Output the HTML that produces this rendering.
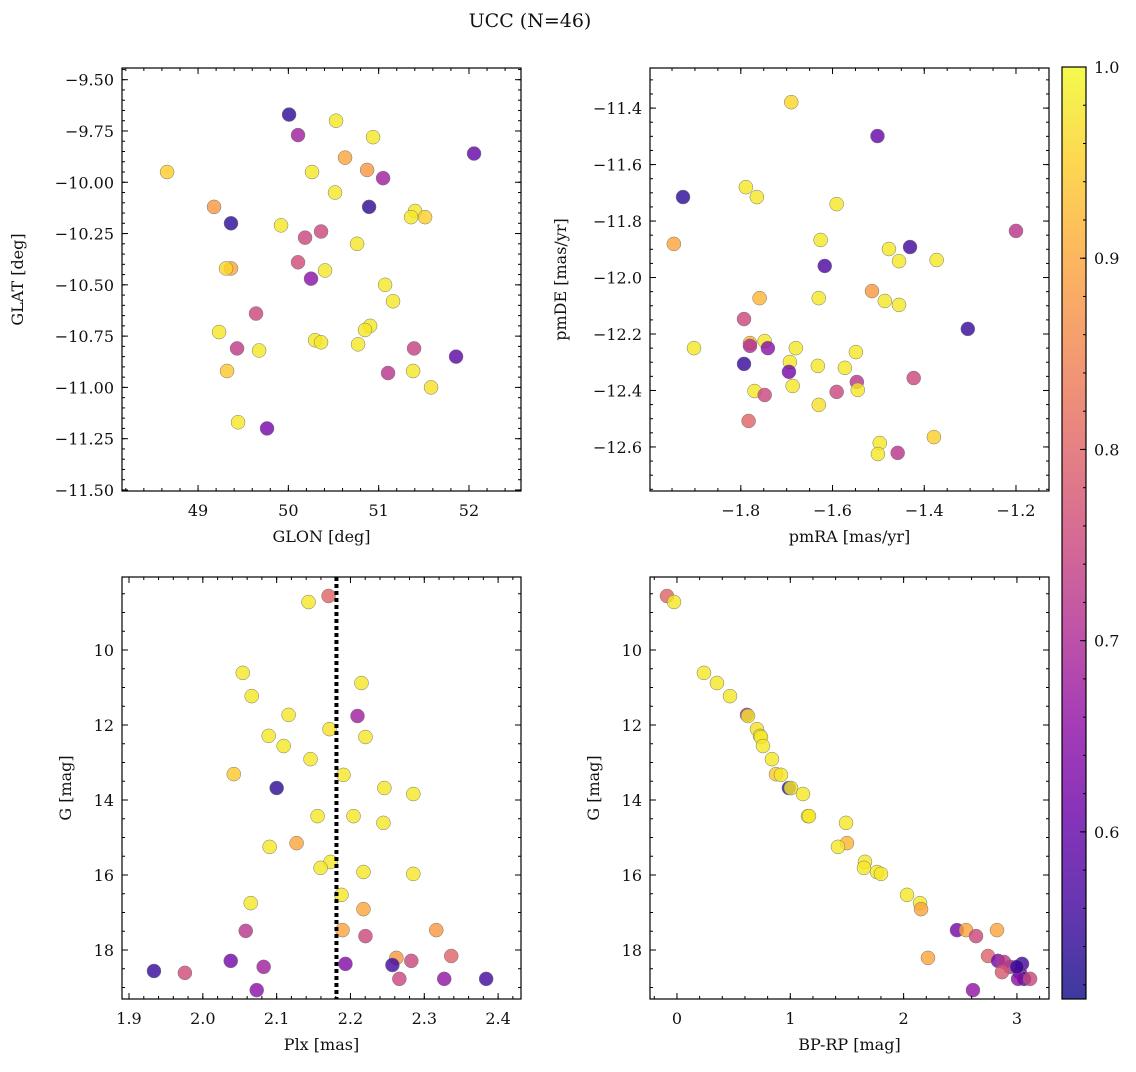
<!DOCTYPE html>
<html><head><meta charset="utf-8">
<style>
body{margin:0;background:#fff;}
svg text{font-family:"DejaVu Serif","Liberation Serif",serif;fill:#111;}
</style></head>
<body>
<svg id="fig" width="1136" height="1067" xmlns="http://www.w3.org/2000/svg">
<text x="530" y="27" text-anchor="middle" font-size="19">UCC (N=46)</text>
</svg>
<script>
// ---- data (per panel): x values, y values, membership probability ----
const glon=[50.008,50.107,50.528,50.938,52.056,50.628,50.872,48.657,50.262,51.049,50.517,49.177,50.894,51.403,51.514,51.359,49.365,49.919,50.362,50.185,50.761,50.107,49.365,49.310,50.406,50.251,51.071,51.159,49.642,50.905,49.233,50.849,50.296,50.362,50.772,49.432,49.676,51.392,51.857,49.321,51.381,51.104,51.580,49.443,49.764];
const glat=[-9.67,-9.77,-9.70,-9.78,-9.86,-9.88,-9.94,-9.95,-9.95,-9.98,-10.05,-10.12,-10.12,-10.14,-10.17,-10.17,-10.20,-10.21,-10.24,-10.27,-10.30,-10.39,-10.42,-10.42,-10.43,-10.47,-10.50,-10.58,-10.64,-10.70,-10.73,-10.72,-10.77,-10.78,-10.79,-10.81,-10.82,-10.81,-10.85,-10.92,-10.92,-10.93,-11.0,-11.17,-11.20];
const prob1=[0.54,0.68,0.98,0.98,0.6,0.9,0.88,0.95,0.98,0.68,0.98,0.88,0.54,0.98,0.95,0.98,0.54,0.98,0.75,0.75,0.98,0.76,0.9,0.96,0.98,0.65,0.98,0.98,0.75,0.98,0.98,0.98,0.98,0.98,0.98,0.73,0.98,0.74,0.59,0.94,0.98,0.72,0.97,0.98,0.62];

const pmra=[-1.690,-1.502,-1.926,-1.789,-1.765,-1.591,-1.946,-1.626,-1.477,-1.431,-1.200,-1.617,-1.455,-1.373,-1.514,-1.759,-1.630,-1.486,-1.455,-1.793,-1.305,-1.902,-1.748,-1.780,-1.780,-1.741,-1.680,-1.549,-1.632,-1.693,-1.793,-1.573,-1.695,-1.547,-1.423,-1.687,-1.770,-1.748,-1.545,-1.591,-1.630,-1.783,-1.379,-1.497,-1.501,-1.458];
const pmde=[-11.379,-11.499,-11.715,-11.680,-11.715,-11.740,-11.881,-11.867,-11.899,-11.892,-11.835,-11.959,-11.942,-11.938,-12.048,-12.073,-12.073,-12.083,-12.097,-12.147,-12.182,-12.250,-12.225,-12.232,-12.242,-12.250,-12.250,-12.264,-12.313,-12.299,-12.306,-12.320,-12.334,-12.370,-12.356,-12.384,-12.402,-12.416,-12.398,-12.405,-12.451,-12.508,-12.565,-12.586,-12.625,-12.621];
const prob2=[0.96,0.6,0.54,0.98,0.98,0.98,0.9,0.98,0.98,0.56,0.72,0.57,0.98,0.98,0.88,0.92,0.98,0.98,0.98,0.75,0.55,0.98,0.98,0.92,0.7,0.65,0.98,0.98,0.98,0.98,0.55,0.98,0.62,0.72,0.75,0.98,0.98,0.75,0.98,0.75,0.97,0.8,0.95,0.98,0.98,0.72];

const plx=[2.1703,2.1432,2.0541,2.2149,2.0662,2.1162,2.2095,2.1716,2.0892,2.2203,2.1095,2.1459,2.0419,2.1905,2.1,2.2459,2.2851,2.2041,2.1554,2.2446,2.1270,2.0905,2.1730,2.1595,2.2176,2.2851,2.1878,2.0649,2.2176,2.1892,2.3162,2.0581,2.2203,2.2622,2.3365,2.0378,2.2824,2.1932,2.2568,2.0824,1.9338,1.9757,2.2662,2.3270,2.3838,2.0730];
const gmag3=[8.56,8.72,10.61,10.88,11.23,11.73,11.76,12.11,12.29,12.32,12.56,12.91,13.31,13.33,13.68,13.68,13.84,14.43,14.43,14.61,15.15,15.25,15.65,15.81,15.92,15.97,16.53,16.75,16.91,17.47,17.47,17.49,17.63,18.21,18.16,18.29,18.29,18.37,18.40,18.45,18.56,18.61,18.77,18.77,18.77,19.07];
const prob3=[0.8,0.98,0.98,0.98,0.98,0.98,0.68,0.97,0.98,0.98,0.98,0.98,0.94,0.98,0.54,0.98,0.98,0.98,0.98,0.98,0.9,0.98,0.98,0.98,0.98,0.98,0.98,0.98,0.9,0.9,0.88,0.72,0.75,0.88,0.8,0.62,0.75,0.64,0.56,0.68,0.55,0.76,0.75,0.66,0.56,0.65];

const bprp=[-0.088,-0.026,0.238,0.353,0.468,0.618,0.627,0.706,0.733,0.741,0.759,0.838,0.874,0.918,0.988,1.006,1.112,1.156,1.165,1.492,1.50,1.421,1.659,1.65,1.765,1.80,2.03,2.145,2.154,2.471,2.551,2.824,2.639,2.745,2.215,2.833,2.886,2.939,3.045,2.868,3.027,3.063,3.01,3.116,2.612,3.0];
const gmag4=[8.56,8.72,10.61,10.88,11.23,11.73,11.76,12.11,12.29,12.32,12.56,12.91,13.31,13.33,13.68,13.68,13.84,14.43,14.43,14.61,15.15,15.25,15.65,15.81,15.92,15.97,16.53,16.75,16.91,17.47,17.47,17.47,17.63,18.16,18.21,18.29,18.32,18.45,18.37,18.59,18.61,18.77,18.77,18.77,19.07,18.45];
const prob4=[0.8,0.98,0.98,0.98,0.98,0.68,0.98,0.97,0.98,0.98,0.98,0.98,0.94,0.98,0.54,0.98,0.98,0.98,0.98,0.98,0.92,0.98,0.98,0.98,0.98,0.98,0.98,0.98,0.9,0.62,0.9,0.9,0.75,0.8,0.9,0.62,0.72,0.72,0.56,0.78,0.65,0.55,0.65,0.75,0.66,0.55];

const plxMedian=2.181;
const cbTicks=[0.6,0.7,0.8,0.9,1.0];
const vmin=0.5126, vmax=1.0;

// ---- rendering ----
const NS="http://www.w3.org/2000/svg";
const svg=document.getElementById('fig');
function mk(tag,attrs,parent){const e=document.createElementNS(NS,tag);for(const k in attrs)e.setAttribute(k,attrs[k]);(parent||svg).appendChild(e);return e;}
const plasma=[[13,8,135],[65,4,157],[106,0,168],[143,13,164],[177,42,144],[204,71,120],[225,100,98],[242,132,75],[252,166,54],[252,206,37],[240,249,33]];
function cmap(v){let t=(v-vmin)/(vmax-vmin);t=Math.max(0,Math.min(1,t))*10;const i=Math.min(9,Math.floor(t)),f=t-i;const a=plasma[i],b=plasma[i+1];return `rgb(${a.map((c,k)=>Math.round(c+(b[k]-c)*f)).join(',')})`;}
function fmt(v,d){return (v<0?'\u2212':'')+Math.abs(v).toFixed(d);}

function panel(o){
  const g=mk('g',{});
  
  
  const X=v=>o.x0+(v-o.xmin)/(o.xmax-o.xmin)*(o.x1-o.x0);
  const Y=o.yinv? (v=>o.y0+(v-o.ymin)/(o.ymax-o.ymin)*(o.y1-o.y0)) : (v=>o.y1-(v-o.ymin)/(o.ymax-o.ymin)*(o.y1-o.y0));
  for(let i=0;i<o.xs.length;i++){
    const c=mk('circle',{cx:X(o.xs[i]),cy:Y(o.ys[i]),r:7,fill:cmap(o.ps[i]),'fill-opacity':0.8,stroke:'#777','stroke-width':0.5},g);
    
    
  }
  if(o.vline!==undefined){
    const l=mk('line',{x1:X(o.vline),x2:X(o.vline),y1:o.y0,y2:o.y1,stroke:'#000','stroke-width':4,'stroke-dasharray':'4,3'},g);
    
    
  }
  const f=mk('rect',{x:o.x0,y:o.y0,width:o.x1-o.x0,height:o.y1-o.y0,fill:'none',stroke:'#000','stroke-width':1.2},g);
  
  
  const eps=1e-9;
  for(let v=Math.ceil(o.xmin/o.xminor)*o.xminor;v<=o.xmax+eps;v+=o.xminor){const x=X(v);mk('line',{x1:x,x2:x,y1:o.y1,y2:o.y1-3,stroke:'#000'},g);mk('line',{x1:x,x2:x,y1:o.y0,y2:o.y0+3,stroke:'#000'},g);}
  for(let v=Math.ceil(o.ymin/o.yminor)*o.yminor;v<=o.ymax+eps;v+=o.yminor){const y=Y(v);mk('line',{x1:o.x0,x2:o.x0+3,y1:y,y2:y,stroke:'#000'},g);mk('line',{x1:o.x1,x2:o.x1-3,y1:y,y2:y,stroke:'#000'},g);}
  o.xticks.forEach(v=>{const x=X(v);mk('line',{x1:x,x2:x,y1:o.y1,y2:o.y1-6,stroke:'#000'},g);mk('line',{x1:x,x2:x,y1:o.y0,y2:o.y0+6,stroke:'#000'},g);
    const t=mk('text',{x:x,y:o.y1+25,'text-anchor':'middle','font-size':16},g);t.textContent=fmt(v,o.xd);
    });
  o.yticks.forEach(v=>{const y=Y(v);mk('line',{x1:o.x0,x2:o.x0+6,y1:y,y2:y,stroke:'#000'},g);mk('line',{x1:o.x1,x2:o.x1-6,y1:y,y2:y,stroke:'#000'},g);
    const t=mk('text',{x:o.x0-8,y:y+6,'text-anchor':'end','font-size':16},g);t.textContent=fmt(v,o.yd);
    });
  const xl=mk('text',{x:(o.x0+o.x1)/2,y:o.y1+51,'text-anchor':'middle','font-size':16},g);xl.textContent=o.xlabel;
  
  const yx=o.ylx, yy=(o.y0+o.y1)/2;
  const yl=mk('text',{x:yx,y:yy,'text-anchor':'middle','font-size':16,transform:`rotate(-90 ${yx} ${yy})`},g);yl.textContent=o.ylabel;
  
}

panel({name:'panel-glon-glat',x0:122,x1:521,y0:68,y1:491,xmin:48.158,xmax:52.576,ymin:-11.505,ymax:-9.443,xs:glon,ys:glat,ps:prob1,
  xticks:[49,50,51,52],xd:0,xminor:0.2,yticks:[-11.5,-11.25,-11,-10.75,-10.5,-10.25,-10,-9.75,-9.5],yd:2,yminor:0.05,xlabel:'GLON [deg]',ylabel:'GLAT [deg]',ylx:23});
panel({name:'panel-proper-motion',x0:650,x1:1049,y0:68,y1:491,xmin:-1.998,xmax:-1.128,ymin:-12.756,ymax:-11.258,xs:pmra,ys:pmde,ps:prob2,
  xticks:[-1.8,-1.6,-1.4,-1.2],xd:1,xminor:0.05,yticks:[-12.6,-12.4,-12.2,-12,-11.8,-11.6,-11.4],yd:1,yminor:0.05,xlabel:'pmRA [mas/yr]',ylabel:'pmDE [mas/yr]',ylx:566});
panel({name:'panel-plx-g',x0:122,x1:521,y0:577,y1:999,xmin:1.8905,xmax:2.431,ymin:8.053,ymax:19.307,yinv:true,xs:plx,ys:gmag3,ps:prob3,vline:plxMedian,
  xticks:[1.9,2.0,2.1,2.2,2.3,2.4],xd:1,xminor:0.02,yticks:[10,12,14,16,18],yd:0,yminor:0.5,xlabel:'Plx [mas]',ylabel:'G [mag]',ylx:71});
panel({name:'panel-cmd',x0:650,x1:1049,y0:577,y1:999,xmin:-0.238,xmax:3.283,ymin:8.053,ymax:19.307,yinv:true,xs:bprp,ys:gmag4,ps:prob4,
  xticks:[0,1,2,3],xd:0,xminor:0.2,yticks:[10,12,14,16,18],yd:0,yminor:0.5,xlabel:'BP-RP [mag]',ylabel:'G [mag]',ylx:599});

(function(){
  const x0=1062,x1=1086,y0=67,y1=999;
  const g=mk('g',{});
  
  
  const defs=mk('defs',{},g);
  const lg=mk('linearGradient',{id:'cbg',x1:0,y1:1,x2:0,y2:0},defs);
  for(let k=0;k<=10;k++){const p=plasma[k];mk('stop',{offset:k/10,'stop-color':`rgb(${p.join(',')})`},lg);}
  mk('rect',{x:x0,y:y0,width:x1-x0,height:y1-y0,fill:'url(#cbg)','fill-opacity':0.8},g);
  mk('rect',{x:x0,y:y0,width:x1-x0,height:y1-y0,fill:'none',stroke:'#000','stroke-width':1.2},g);
  const Y=v=>y1-(v-vmin)/(vmax-vmin)*(y1-y0);
  for(let v=0.52;v<=1.0001;v+=0.02){const y=Y(v);mk('line',{x1:x1,x2:x1-3,y1:y,y2:y,stroke:'#000'},g);}
  cbTicks.forEach(v=>{const y=Y(v);mk('line',{x1:x1,x2:x1-6,y1:y,y2:y,stroke:'#000'},g);
    const t=mk('text',{x:x1+8,y:y+6,'font-size':16},g);t.textContent=v.toFixed(1);
    });
})();
</script>
</body></html>
